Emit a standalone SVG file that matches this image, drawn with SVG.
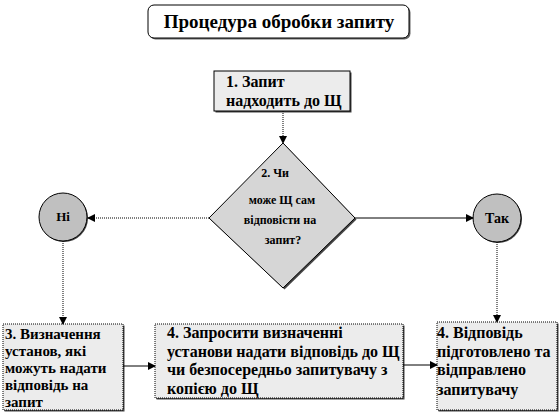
<svg xmlns="http://www.w3.org/2000/svg" width="560" height="414" viewBox="0 0 560 414">
<style>
text{font-family:"Liberation Serif","DejaVu Serif","Times New Roman",serif;font-weight:bold;fill:#000}
.box{fill:#ececec;stroke:#000;stroke-width:1}
.dot{stroke-dasharray:1 1}
.sh{fill:#444}
.t{font-size:16px}
.s{font-size:15px}
.d{font-size:12px}
.con{fill:none;stroke:#000;stroke-width:1}
</style>
<defs>
<marker id="ah" markerWidth="8" markerHeight="8" refX="7" refY="4" orient="auto" markerUnits="userSpaceOnUse">
<path d="M0,0 L8,4 L0,8 z" fill="#000"/>
</marker>
</defs>
<rect width="560" height="414" fill="#fff"/>
<g id="title">
<rect x="149.5" y="6.5" width="261" height="33" rx="6" fill="#666"/>
<rect x="148" y="5" width="261" height="33" rx="6" fill="#fff" stroke="#000" stroke-width="1"/>
<text x="279" y="28" text-anchor="middle" font-size="19">Процедура обробки запиту</text>
</g>
<g id="n1">
<rect x="215.5" y="72.5" width="136" height="40" class="sh"/>
<rect x="214" y="71" width="136" height="40" class="box"/>
<text class="t" x="226" y="87">1. Запит</text>
<text class="t" x="226" y="106">надходить до Щ</text>
</g>
<g id="n2">
<polygon points="284.5,144.5 356.5,219.5 284.5,289.5 210.5,219.5" fill="#444"/>
<polygon points="283,143 355,218 283,288 209,218" fill="#d6d6d6" stroke="#000" stroke-width="1"/>
<text class="d" x="275" y="177" text-anchor="middle">2. Чи</text>
<text class="d" x="282" y="204" text-anchor="middle">може Щ сам</text>
<text class="d" x="280" y="224" text-anchor="middle">відповісти на</text>
<text class="d" x="283" y="244" text-anchor="middle">запит?</text>
</g>
<g id="no">
<circle cx="64" cy="218" r="24" fill="#444"/>
<circle cx="63" cy="217" r="24" fill="#c0c0c0" stroke="#000" stroke-width="1"/>
<text x="63" y="221" text-anchor="middle" font-size="13">Ні</text>
</g>
<g id="yes">
<circle cx="498" cy="219" r="24" fill="#444"/>
<circle cx="497" cy="218" r="24" fill="#c0c0c0" stroke="#000" stroke-width="1"/>
<text x="497" y="223" text-anchor="middle" font-size="14">Так</text>
</g>
<g id="n3">
<rect x="4.5" y="325.5" width="120" height="86" class="sh"/>
<rect x="3" y="324" width="120" height="86" class="box dot"/>
<text class="s" x="5" y="339">3. Визначення</text>
<text class="s" x="5" y="356">установ, які</text>
<text class="s" x="5" y="373">можуть надати</text>
<text class="s" x="5" y="390">відповідь на</text>
<text class="s" x="5" y="407">запит</text>
</g>
<g id="n4">
<rect x="156.5" y="325.5" width="248" height="74" class="sh"/>
<rect x="155" y="324" width="248" height="74" class="box dot"/>
<text class="t" x="167" y="338">4. Запросити  визначенні</text>
<text class="t" x="167" y="357">установи надати відповідь  до Щ</text>
<text class="t" x="167" y="375">чи безпосередньо запитувачу з</text>
<text class="t" x="167" y="394">копією до Щ</text>
</g>
<g id="n5">
<rect x="438.5" y="323.5" width="120" height="88" class="sh"/>
<rect x="437" y="322" width="120" height="88" class="box dot"/>
<text class="t" x="437" y="338">4. Відповідь</text>
<text class="t" x="437" y="357">підготовлено та</text>
<text class="t" x="437" y="375">відправлено</text>
<text class="t" x="437" y="395">запитувачу</text>
</g>
<g id="connectors">
<line class="con dot" x1="283" y1="111" x2="283" y2="143" marker-end="url(#ah)"/>
<line class="con dot" x1="209" y1="218" x2="88" y2="218" marker-end="url(#ah)"/>
<line class="con" x1="355" y1="218" x2="473" y2="218" marker-end="url(#ah)"/>
<line class="con dot" x1="63" y1="241" x2="63" y2="324" marker-end="url(#ah)"/>
<line class="con dot" x1="497" y1="242" x2="497" y2="322" marker-end="url(#ah)"/>
<line class="con" x1="123" y1="366" x2="155" y2="366" marker-end="url(#ah)"/>
<line class="con" x1="403" y1="365" x2="437" y2="365" marker-end="url(#ah)"/>
</g>
</svg>
